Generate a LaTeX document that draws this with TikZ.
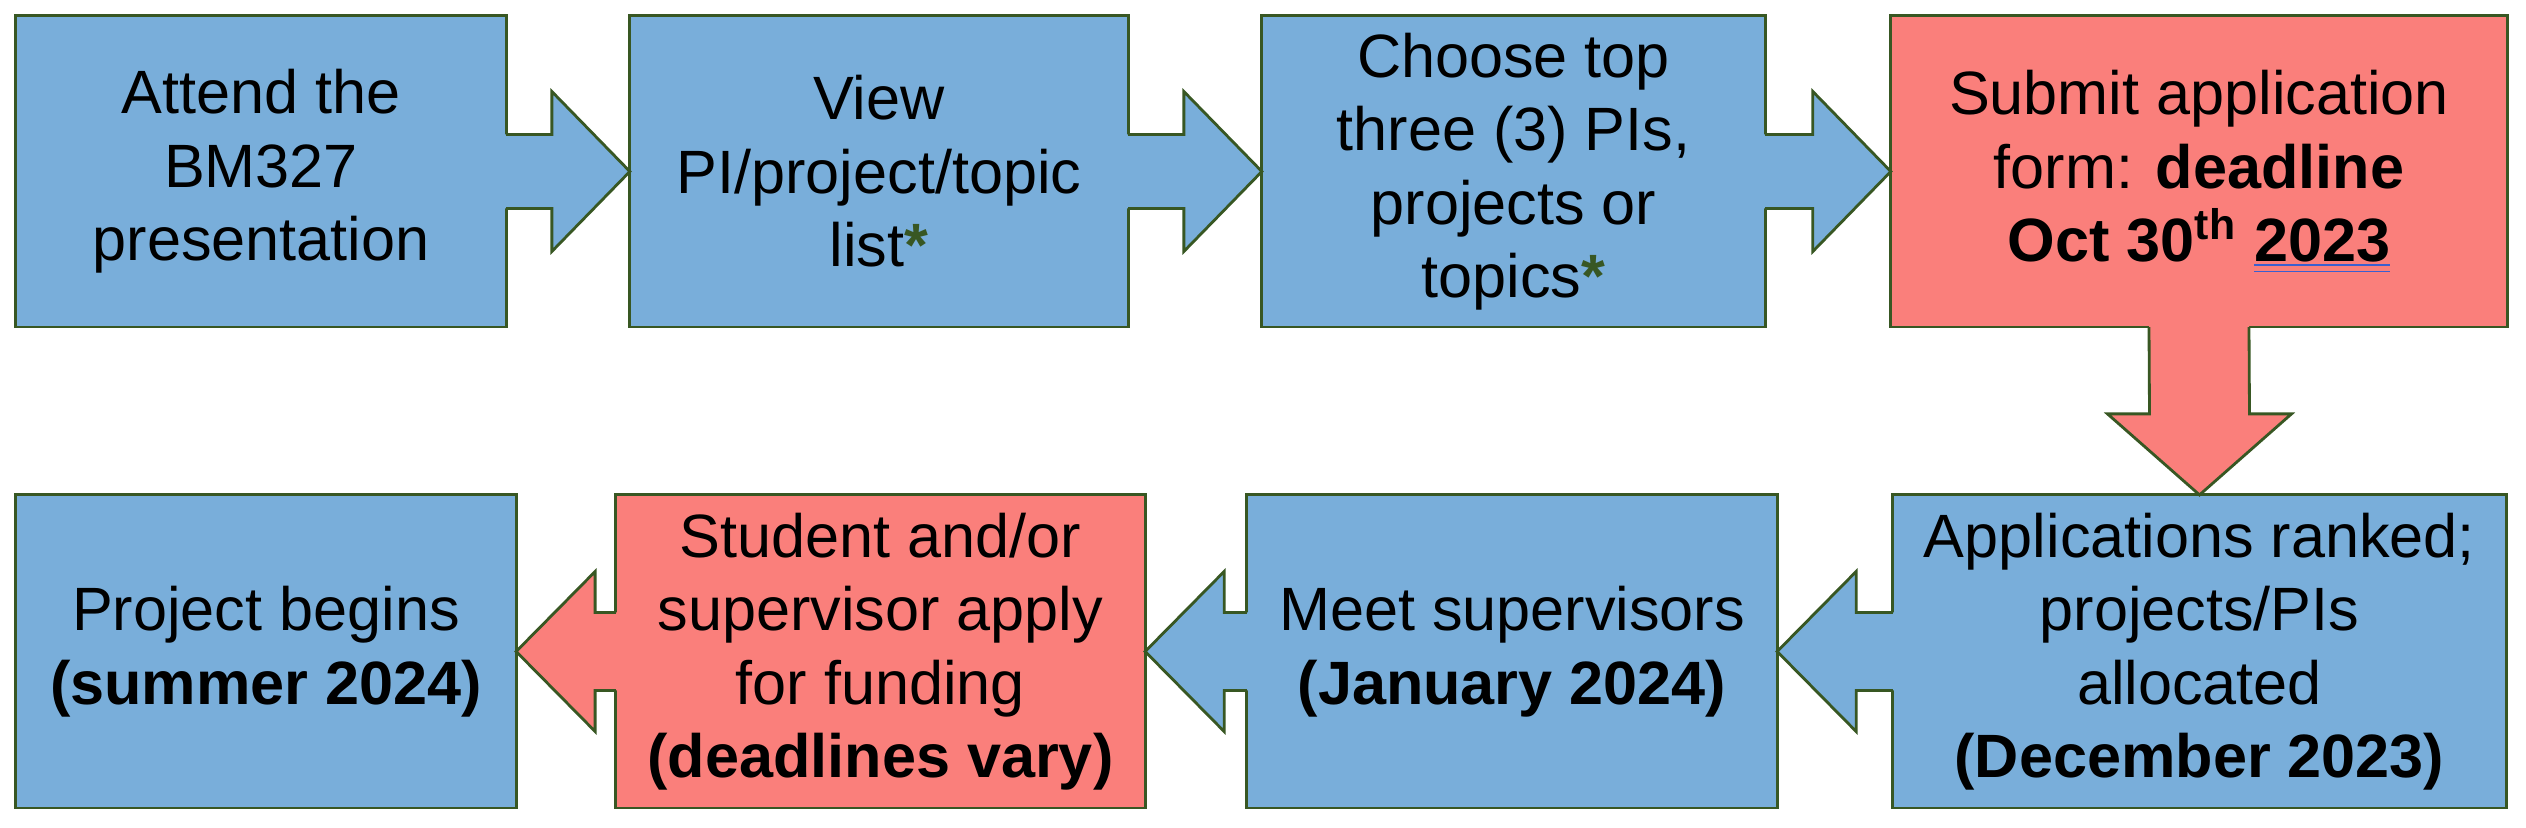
\documentclass[tikz,border=0pt]{standalone}
\usepackage{fontspec}
\setmainfont{Liberation Sans}
\usepackage{tikz}
\usetikzlibrary{calc}
\definecolor{stepblue}{HTML}{79AEDA}
\definecolor{stepred}{HTML}{FA7F7B}
\definecolor{edgegreen}{HTML}{385723}
\definecolor{markblue}{HTML}{3A5FD0}
\tikzset{every node/.style={font=\fontsize{17.4}{20.9}\selectfont}}
\tikzset{
  box/.style={draw=edgegreen, line width=0.8pt, align=center, inner sep=0pt, outer sep=0pt},
  bluebox/.style={box, fill=stepblue},
  redbox/.style={box, fill=stepred},
  edge/.style={draw=edgegreen, line width=0.8pt, line join=miter}
}
\newcommand{\gstar}{\textcolor{edgegreen}{\textbf{*}}}
\newcommand{\dblu}[1]{\setbox0\hbox{#1}%
  \rlap{\color{markblue}\rule[-1.2pt]{\wd0}{0.5pt}}%
  \rlap{\color{markblue}\rule[-3pt]{\wd0}{0.5pt}}\box0}
% block arrows: from node, to node, fill
\newcommand{\rightblock}[3]{%
  \fill[#3] ($(#1.east)+(-4,-37)$) -- ($(#2.west)+(-78,-37)$) -- ($(#2.west)+(-78,-80)$) -- (#2.west)
    -- ($(#2.west)+(-78,80)$) -- ($(#2.west)+(-78,37)$) -- ($(#1.east)+(-4,37)$) -- cycle;
  \draw[edge] ($(#1.east)+(0,-37)$) -- ($(#2.west)+(-78,-37)$) -- ($(#2.west)+(-78,-80)$) -- (#2.west)
    -- ($(#2.west)+(-78,80)$) -- ($(#2.west)+(-78,37)$) -- ($(#1.east)+(0,37)$);}
\newcommand{\leftblock}[3]{%
  \fill[#3] ($(#1.west)+(4,-39)$) -- ($(#2.east)+(79,-39)$) -- ($(#2.east)+(79,-80)$) -- (#2.east)
    -- ($(#2.east)+(79,80)$) -- ($(#2.east)+(79,39)$) -- ($(#1.west)+(4,39)$) -- cycle;
  \draw[edge] ($(#1.west)+(0,-39)$) -- ($(#2.east)+(79,-39)$) -- ($(#2.east)+(79,-80)$) -- (#2.east)
    -- ($(#2.east)+(79,80)$) -- ($(#2.east)+(79,39)$) -- ($(#1.west)+(0,39)$);}
\newcommand{\downblock}[3]{%
  \fill[#3] ($(#1.south)+(-50,-4)$) -- ($(#2.north)+(-50,-81)$) -- ($(#2.north)+(-92,-81)$) -- (#2.north)
    -- ($(#2.north)+(92,-81)$) -- ($(#2.north)+(50,-81)$) -- ($(#1.south)+(50,-4)$) -- cycle;
  \draw[edge] ($(#1.south)+(-50,0)$) -- ($(#2.north)+(-50,-81)$) -- ($(#2.north)+(-92,-81)$) -- (#2.north)
    -- ($(#2.north)+(92,-81)$) -- ($(#2.north)+(50,-81)$) -- ($(#1.south)+(50,0)$);}

\begin{document}
\begin{tikzpicture}[x=0.01cm, y=-0.01cm]
    \useasboundingbox (0,0) rectangle (2526,828);
    % top row
    \node[bluebox, minimum width=4.9cm, minimum height=3.11cm] (attend) at (261,171.5) {Attend the\\BM327\\presentation};
    \node[bluebox, minimum width=4.98cm, minimum height=3.11cm] (view) at (879,171.5) {View\\PI/project/topic\\list\gstar};
    \node[bluebox, minimum width=5.03cm, minimum height=3.11cm] (choose) at (1513.5,171.5) {Choose top\\three (3) PIs,\\projects or\\topics\gstar};
    \node[redbox, minimum width=6.16cm, minimum height=3.11cm] (submit) at (2199,171.5) {Submit application\\form: \textbf{deadline}\\\textbf{Oct 30\textsuperscript{th} \dblu{2023}}};
    % bottom row
    \node[bluebox, minimum width=5cm, minimum height=3.13cm] (begins) at (266,651.5) {Project begins\\\textbf{(summer 2024)}};
    \node[redbox, minimum width=5.29cm, minimum height=3.13cm] (funding) at (880.5,651.5) {Student and/or\\supervisor apply\\for funding\\\textbf{(deadlines vary)}};
    \node[bluebox, minimum width=5.3cm, minimum height=3.13cm] (meet) at (1512,651.5) {Meet supervisors\\\textbf{(January 2024)}};
    \node[bluebox, minimum width=6.13cm, minimum height=3.13cm] (ranked) at (2199.5,651.5) {Applications ranked;\\projects/PIs\\allocated\\\textbf{(December 2023)}};
    % arrows
    \rightblock{attend}{view}{stepblue}
    \rightblock{view}{choose}{stepblue}
    \rightblock{choose}{submit}{stepblue}
    \downblock{submit}{ranked}{stepred}
    \leftblock{ranked}{meet}{stepblue}
    \leftblock{meet}{funding}{stepblue}
    \leftblock{funding}{begins}{stepred}
\end{tikzpicture}
\end{document}
